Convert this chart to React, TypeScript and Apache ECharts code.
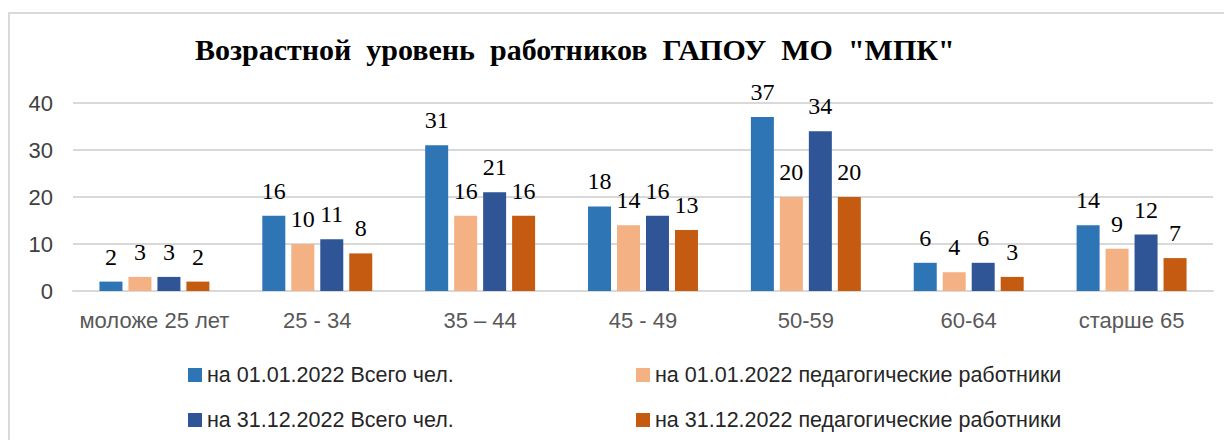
import React, { useEffect, useRef } from "react";
import * as echarts from "echarts";

const titleText = 'Возрастной  уровень  работников  ГАПОУ  МО  "МПК"';
const categories = ["моложе 25 лет", "25 - 34", "35 – 44", "45 - 49", "50-59", "60-64", "старше 65"];
const seriesNames = [
  "на 01.01.2022 Всего чел.",
  "на 01.01.2022 педагогические работники",
  "на 31.12.2022 Всего чел.",
  "на 31.12.2022 педагогические работники",
];
const total2022Start = [2, 16, 31, 18, 37, 6, 14];
const ped2022Start = [3, 10, 16, 14, 20, 4, 9];
const total2022End = [3, 11, 21, 16, 34, 6, 12];
const ped2022End = [2, 8, 16, 13, 20, 3, 7];
const colors = ["#2E75B6", "#F4B183", "#2F5597", "#C55A11"];
const yTicks = { min: 0, max: 40, interval: 10 };

const sansFont = "Liberation Sans";
const serifFont = "Liberation Serif";

export default function App() {
  const ref = useRef<HTMLDivElement>(null);
  useEffect(() => {
    if (!ref.current) return;
    const chart = echarts.init(ref.current, undefined, { renderer: "svg" });
    const values = [total2022Start, ped2022Start, total2022End, ped2022End];
    const legendPos = [
      { left: 180, top: 356 },
      { left: 628, top: 356 },
      { left: 180, top: 401 },
      { left: 628, top: 401 },
    ];
    chart.setOption({
      animation: false,
      backgroundColor: "#ffffff",
      title: {
        text: titleText,
        left: 187,
        top: 26,
        padding: 0,
        textStyle: { fontFamily: serifFont, fontWeight: "bold", fontSize: 30, color: "#000000" },
      },
      graphic: [
        {
          type: "polyline",
          shape: { points: [[1, 440], [1, 5], [1220, 5]] },
          style: { stroke: "#d9d9d9", lineWidth: 2, fill: "none" },
        },
      ],
      legend: seriesNames.map((n, i) => ({
        data: [n],
        left: legendPos[i].left,
        top: legendPos[i].top,
        padding: 0,
        icon: "rect",
        itemWidth: 14,
        itemHeight: 14,
        selectedMode: false,
        textStyle: { fontFamily: sansFont, fontSize: 21.5, color: "#262626" },
      })),
      grid: { left: 65, right: 11, top: 95, bottom: 149 },
      xAxis: {
        type: "category",
        data: categories,
        axisLine: { lineStyle: { color: "#d9d9d9", width: 2 } },
        axisTick: { show: false },
        axisLabel: { interval: 0, fontFamily: sansFont, fontSize: 22, color: "#595959", margin: 18 },
      },
      yAxis: {
        type: "value",
        min: yTicks.min,
        max: yTicks.max,
        interval: yTicks.interval,
        axisLine: { show: false },
        axisTick: { show: false },
        splitLine: { lineStyle: { color: "#d9d9d9", width: 2 } },
        axisLabel: { fontFamily: sansFont, fontSize: 22, color: "#404040", margin: 20 },
      },
      series: seriesNames.map((n, i) => ({
        name: n,
        type: "bar",
        data: values[i],
        barWidth: 23,
        barGap: "26%",
        itemStyle: { color: colors[i] },
        label: {
          show: true,
          position: "top",
          distance: 13,
          fontFamily: serifFont,
          fontSize: 24,
          color: "#000000",
        },
      })),
    });
    return () => chart.dispose();
  }, []);
  return <div ref={ref} style={{ width: 1216, height: 432 }} />;
}
